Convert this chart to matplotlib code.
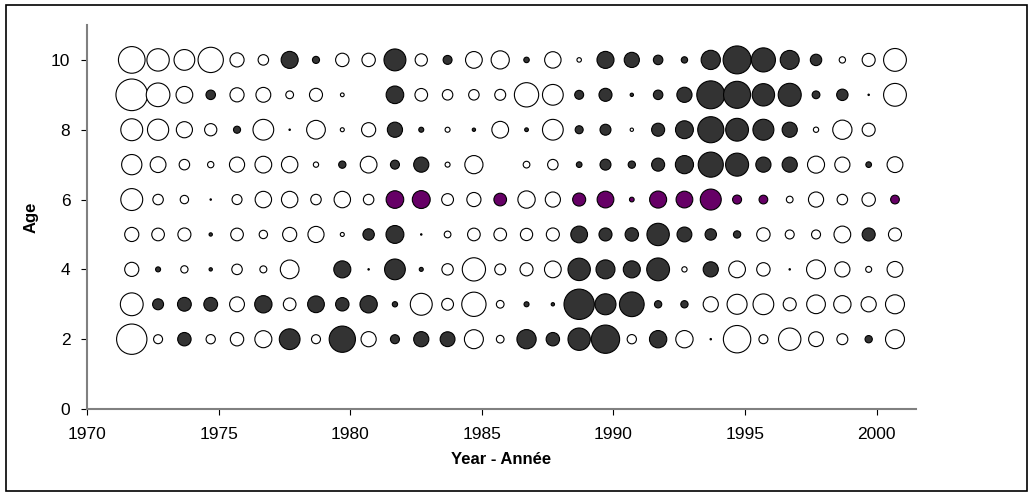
import numpy as np
import matplotlib.pyplot as plt
from matplotlib.patches import Rectangle

plt.rcParams['font.family'] = ['Liberation Sans', 'DejaVu Sans']

# residuals by age (rows) and year (columns); bubble area follows |value|,
# positive = filled, negative = open
years = np.arange(1972, 2002)
ages = [2, 3, 4, 5, 6, 7, 8, 9, 10]

res = {
    10: [-7.1, -5.0, -4.3, -6.4, -2.0, -1.1, 2.9, 0.5, -1.8, -1.8, 4.8, -1.5, 0.8, -2.8, -3.3,
         0.3, -2.7, -0.2, 2.9, 2.3, 0.9, 0.4, 3.7, 7.8, 5.8, 3.6, 1.3, -0.4, -1.7, -5.2],
    9: [-10.0, -5.6, -2.8, 0.9, -2.0, -2.2, -0.6, -1.7, -0.14, 0, 3.1, -1.6, -1.1, -1.1, -1.2,
        -5.9, -4.3, 0.8, 1.7, 0.11, 0.9, 2.3, 7.8, 7.3, 5.0, 5.3, 0.6, 1.3, 0.02, -5.2],
    8: [-4.8, -4.5, -2.6, -1.5, 0.5, -4.3, 0.02, -3.5, -0.16, -2.0, 2.3, 0.25, -0.25, 0.11, -2.8,
        0.14, -4.3, 0.64, 1.2, -0.11, 1.7, 3.2, 6.8, 5.2, 4.4, 2.3, -0.28, -3.7, -1.7, 0],
    7: [-4.1, -2.5, -1.1, -0.4, -2.3, -2.8, -2.7, -0.28, 0.53, -2.8, 0.81, 2.3, -0.25, -3.3, 0,
        -0.45, -1.1, 0.32, 1.2, 0.53, 1.7, 3.3, 6.3, 5.3, 2.3, 2.3, -2.9, -2.3, 0.32, -2.5],
    6: [-4.8, -1.1, -0.7, 0.02, -1.0, -2.7, -2.7, -1.1, -2.7, -1.1, 3.1, 3.2, -1.4, -2.0, 1.6,
        -3.0, -2.3, 1.7, 2.8, 0.22, 2.9, 2.8, 4.4, 0.81, 0.76, -0.45, -2.3, -1.1, -1.8, 0.76],
    5: [-2.0, -1.6, -1.7, 0.11, -1.6, -0.7, -2.0, -2.6, -0.16, 1.3, 3.2, 0.02, -0.45, -1.6, -1.6,
        -1.5, -1.7, 2.8, 1.7, 1.8, 5.0, 2.2, 1.3, 0.53, -1.8, -0.81, -0.81, -2.8, 1.7, -1.7],
    4: [-2.0, 0.25, -0.53, 0.11, -1.1, -0.49, -3.5, 0, 2.9, 0.02, 4.3, 0.16, -1.3, -5.4, -1.2,
        -1.7, -2.8, 5.0, 3.6, 2.9, 5.2, -0.28, 2.3, -2.8, -1.8, 0.02, -3.6, -2.3, -0.36, -2.5],
    3: [-5.2, 1.2, 1.9, 1.9, -2.2, 3.0, -1.6, 2.8, 1.8, 3.0, 0.28, -4.8, -1.4, -5.9, -0.59,
        0.25, 0.11, 9.2, 4.4, 6.1, 0.53, 0.53, -2.3, -4.0, -4.3, -1.7, -3.5, -3.0, -2.3, -3.6],
    2: [-9.2, -0.81, 1.8, -0.86, -1.8, -2.9, 4.3, -0.81, 6.9, -2.3, 0.81, 2.3, 2.2, -3.6, -0.59,
        3.7, 1.8, 5.0, 8.0, -0.86, 3.0, -3.0, 0.02, -7.5, -0.81, -5.0, -2.2, -1.2, 0.53, -3.6],
}
highlight_age = 6

fig = plt.figure(figsize=(10.31, 4.95), dpi=100)
ax = fig.add_axes([0.0844, 0.1737, 0.8041, 0.7758])

x = years - 0.3
for age in ages:
    v = np.array(res[age])
    keep = v != 0
    pos_col = '#660066' if age == highlight_age else '#333333'
    colors = np.where(v > 0, pos_col, 'white')
    ax.scatter(x[keep], np.full(keep.sum(), age), s=51.84 * np.abs(v[keep]),
               c=colors[keep], edgecolors='black', linewidths=0.8, zorder=3)

ax.set_xlim(1970, 2001.5)
ax.set_ylim(0, 11)
ax.set_xticks(range(1970, 2001, 5))
ax.set_yticks(range(0, 11, 2))
for side in ['top', 'right']:
    ax.spines[side].set_visible(False)
for side in ['left', 'bottom']:
    ax.spines[side].set_color('#808080')
    ax.spines[side].set_linewidth(1.5)
ax.tick_params(direction='out', length=4, width=0.8, labelsize=12.5, color='black')
ax.tick_params(axis='x', pad=9)
ax.tick_params(axis='y', pad=8)

ax.set_xlabel('Year - Année', fontsize=12, fontweight='bold', labelpad=7)
ax.set_ylabel('Age', fontsize=12, fontweight='bold', labelpad=9)

fig.patches.append(Rectangle((6 / 1031, 4 / 495), 1021 / 1031, 486 / 495,
                             transform=fig.transFigure, fill=False,
                             edgecolor='black', linewidth=1.2))

fig.savefig('out.png', dpi=100)
